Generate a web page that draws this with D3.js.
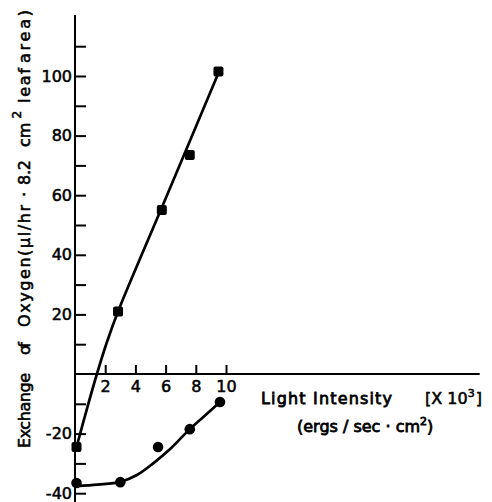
<!DOCTYPE html>
<html>
<head>
<meta charset="utf-8">
<script src="https://cdn.jsdelivr.net/npm/d3@7/dist/d3.min.js"></script>
<style>
  html, body { margin: 0; padding: 0; background: #fff; }
  svg { display: block; }
  text { font-family: "DejaVu Sans", sans-serif; fill: #000; stroke: #000; stroke-width: 0.55px; }
</style>
</head>
<body>
<div id="chart"></div>
<script>
// ---- data ----
// Light intensity (x 10^3 ergs/sec·cm²) and O2 exchange (µl/hr · 8.2 cm² leaf area)
const squaresX = [0.1, 2.85, 5.75, 7.6, 9.5];
const squaresY = [-24.5, 21, 55, 73.5, 101.5];
const circlesX = [0.1, 3.0, 5.5, 7.6, 9.6];
const circlesY = [-36.6, -36.3, -24.5, -18.5, -9.4];
// hand-drawn fitted curves
const upperFitX = [0.1, 0.8, 1.45, 2.1, 2.85, 5.75, 7.6, 9.5];
const upperFitY = [-24.5, -11.5, 0, 10.5, 21, 55.9, 78.1, 101];
const lowerFitX = [0.1, 1.5, 3.0, 4.1, 5.2, 6.3, 7.6, 8.5, 9.6];
const lowerFitY = [-37.6, -37.1, -36.2, -33.9, -29.9, -25.2, -18.5, -14.4, -9.4];
// ticks
const xTickValues = [2, 4, 6, 8, 10];
const yTickValues = [-40, -30, -20, -10, 10, 20, 30, 40, 50, 60, 70, 80, 90, 100, 110];
const yLabelValues = [-40, -20, 20, 40, 60, 80, 100];
// axis extents (data units)
const xAxisMax = 26.8;
const yAxisTop = 120.5, yAxisBottom = -43;
// axis titles
const yTitleWords = ["Exchange", "of", "Oxygen(\u03bcl/hr", "\u00b7", "8.2", "cm", "leaf", "area)"];

const W = 492, H = 502;
const svg = d3.select("#chart").append("svg").attr("width", W).attr("height", H);

const x = d3.scaleLinear().domain([0, 10]).range([75, 226]);
const y = d3.scaleLinear().domain([0, 100]).range([374, 76]);

// axis lines
svg.append("line")
  .attr("x1", x(0)).attr("x2", x(0))
  .attr("y1", y(yAxisTop)).attr("y2", y(yAxisBottom))
  .attr("stroke", "#000").attr("stroke-width", 2);
svg.append("line")
  .attr("x1", x(0)).attr("x2", x(xAxisMax))
  .attr("y1", y(0)).attr("y2", y(0))
  .attr("stroke", "#000").attr("stroke-width", 2);

// y axis ticks (pointing right), labels on left
const yAxis = d3.axisLeft(y)
  .tickValues(yTickValues)
  .tickSize(-11)
  .tickPadding(3)
  .tickFormat(d => yLabelValues.includes(d) ? String(d) : "");
const gy = svg.append("g").attr("transform", `translate(${x(0)},0)`).call(yAxis);
gy.select(".domain").remove();
gy.selectAll(".tick line").attr("stroke", "#000").attr("stroke-width", 2);
gy.selectAll(".tick text").attr("font-size", 16).attr("font-family", "DejaVu Sans").attr("fill", "#000");

// x axis ticks (pointing up), labels below
const xAxis = d3.axisBottom(x)
  .tickValues(xTickValues)
  .tickSize(-9)
  .tickPadding(7)
  .tickFormat(d => String(d));
const gx = svg.append("g").attr("transform", `translate(0,${y(0)})`).call(xAxis);
gx.select(".domain").remove();
gx.selectAll(".tick line").attr("stroke", "#000").attr("stroke-width", 2);
gx.selectAll(".tick text").attr("font-size", 16).attr("font-family", "DejaVu Sans").attr("fill", "#000");

// fitted curves
const line = d3.line().x(d => x(d[0])).y(d => y(d[1])).curve(d3.curveCatmullRom.alpha(0.5));
svg.append("path").datum(d3.zip(upperFitX, upperFitY))
  .attr("d", line).attr("fill", "none").attr("stroke", "#000").attr("stroke-width", 2.7);
svg.append("path").datum(d3.zip(lowerFitX, lowerFitY))
  .attr("d", line).attr("fill", "none").attr("stroke", "#000").attr("stroke-width", 2.7);

// markers
const sq = 10;
svg.selectAll("rect.sq").data(d3.zip(squaresX, squaresY)).join("rect")
  .attr("class", "sq")
  .attr("x", d => x(d[0]) - sq / 2).attr("y", d => y(d[1]) - sq / 2)
  .attr("width", sq).attr("height", sq).attr("rx", 2)
  .attr("fill", "#000");
svg.selectAll("circle.ci").data(d3.zip(circlesX, circlesY)).join("circle")
  .attr("class", "ci")
  .attr("cx", d => x(d[0])).attr("cy", d => y(d[1])).attr("r", 5.3)
  .attr("fill", "#000");

// y-axis title: words placed along the rotated baseline
const yWordStart = [448, 355, 327, 197, 185, 147, 103, 63];
const yWordLen   = [75, 13, 122, 0, 25, 28, 35, 53];
yTitleWords.forEach((w, i) => {
  const t = svg.append("text")
    .attr("transform", `translate(30,${yWordStart[i]}) rotate(-90)`)
    .attr("font-size", 16);
  if (w === "cm") {
    t.append("tspan").text("cm");
    t.append("tspan").attr("dy", -9).attr("font-size", 12).attr("dx", 4).text("2");
  } else {
    t.text(w);
    if (yWordLen[i] > 0) t.attr("textLength", yWordLen[i]).attr("lengthAdjust", "spacing");
  }
});

// x-axis title
svg.append("text").attr("x", 261).attr("y", 404).attr("font-size", 16)
  .style("stroke-width", "0.8px")
  .attr("textLength", 131).attr("lengthAdjust", "spacing").text("Light Intensity");
const tx = svg.append("text").attr("x", 425).attr("y", 404).attr("font-size", 16);
tx.append("tspan").text("[X 10");
tx.append("tspan").attr("dy", -7).attr("font-size", 11).text("3");
tx.append("tspan").attr("dy", 7).attr("dx", 1).text("]");
const te = svg.append("text").attr("x", 297).attr("y", 432).attr("font-size", 16)
  .style("stroke-width", "0.8px");
te.append("tspan").text("(ergs / sec  \u00b7 cm");
te.append("tspan").attr("dy", -7).attr("font-size", 11).text("2");
te.append("tspan").attr("dy", 7).text(")");
</script>
</body>
</html>
